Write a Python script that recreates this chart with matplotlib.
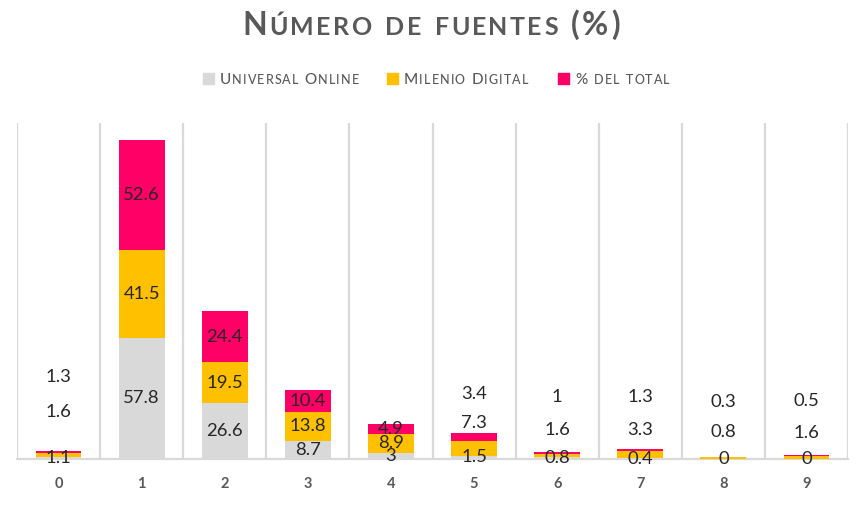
import matplotlib
matplotlib.use("Agg")
import matplotlib.pyplot as plt
from matplotlib.patches import Rectangle

# ---------------- data ----------------
categories = ["0", "1", "2", "3", "4", "5", "6", "7", "8", "9"]
universal_online = [1.1, 57.8, 26.6, 8.7, 3, 1.5, 0.8, 0.4, 0, 0]
milenio_digital = [1.6, 41.5, 19.5, 13.8, 8.9, 7.3, 1.6, 3.3, 0.8, 1.6]
pct_total = [1.3, 52.6, 24.4, 10.4, 4.9, 3.4, 1, 1.3, 0.3, 0.5]
series_names = ["Universal Online", "Milenio Digital", "% del total"]
title_text = "Número de fuentes (%)"

# ---------------- style ----------------
W, H, DPI = 867, 513, 100
FONT = ["Lato", "DejaVu Sans"]
C_GRAY = "#D9D9D9"
C_YELLOW = "#FFC000"
C_PINK = "#FF0066"
C_TEXT = "#595959"
C_LABEL = "#262626"
colors = [C_GRAY, C_YELLOW, C_PINK]

# manual label positions (data units) for labels moved above small stacks
label_pos = {
    (0, 1): 22.4, (0, 2): 39.0,
    (5, 1): 17.1, (5, 2): 31.0,
    (6, 1): 13.8, (6, 2): 29.5,
    (7, 1): 13.8, (7, 2): 29.5,
    (8, 1): 12.9, (8, 2): 27.1,
    (9, 1): 12.4, (9, 2): 27.6,
}

plt.rcParams["font.family"] = FONT
fig = plt.figure(figsize=(W / DPI, H / DPI), dpi=DPI)
fig.patch.set_facecolor("white")

left, right, top, bottom = 17, 848, 123, 459
ax = fig.add_axes([left / W, (H - bottom) / H, (right - left) / W, (bottom - top) / H])

x = list(range(len(categories)))
series = [universal_online, milenio_digital, pct_total]
base = [0.0] * len(x)
bw = 0.55
for si, vals in enumerate(series):
    ax.bar(x, vals, width=bw, bottom=base, color=colors[si], zorder=3, linewidth=0)
    for i, v in enumerate(vals):
        y = label_pos.get((i, si), base[i] + v / 2.0)
        ax.text(i, y, f"{v:g}", ha="center", va="center", fontsize=13.3,
                color=C_LABEL, zorder=5, family=FONT)
    base = [b + v for b, v in zip(base, vals)]

ax.set_xlim(-0.5, len(x) - 0.5)
ax.set_ylim(0, 160)
ax.set_yticks([])
ax.set_xticks(x)
ax.set_xticklabels(categories, fontweight="bold", fontsize=10.5, color=C_TEXT)
ax.set_xticks([k - 0.5 for k in range(len(x) + 1)], minor=True)
ax.tick_params(axis="x", which="both", length=0, pad=13)
ax.grid(axis="x", which="minor", color=C_GRAY, linewidth=1.6, zorder=0)
for s in ["top", "left", "right"]:
    ax.spines[s].set_visible(False)
ax.spines["bottom"].set_color(C_GRAY)
ax.spines["bottom"].set_linewidth(1.6)
ax.spines["bottom"].set_zorder(2)

renderer = fig.canvas.get_renderer()


def pt2px(pt):
    return pt * DPI / 72.0


def smallcaps(x_px, y_px, text, big, small, color, weight, track, ha="left"):
    pieces = []
    for ch in text:
        if ch.islower():
            pieces.append((ch.upper(), small))
        else:
            pieces.append((ch, big))
    widths = []
    for ch, size in pieces:
        if ch == " ":
            widths.append(pt2px(size) * 0.28)
            continue
        t = fig.text(0, 0, ch, fontsize=size, fontweight=weight, family=FONT)
        widths.append(t.get_window_extent(renderer).width)
        t.remove()
    total = sum(widths) + track * (len(pieces) - 1)
    cx = x_px - total / 2.0 if ha == "center" else x_px
    for (ch, size), w in zip(pieces, widths):
        if ch != " ":
            fig.text(cx / W, 1 - y_px / H, ch, fontsize=size, fontweight=weight,
                     color=color, family=FONT, va="baseline", ha="left")
        cx += w + track


# title
smallcaps(431, 35, title_text, 23, 18, C_TEXT, "bold", 2.3, ha="center")

# legend
sq_x = [203, 387, 558]
tx_x = [220, 404, 575]
for si, name in enumerate(series_names):
    fig.patches.append(Rectangle((sq_x[si] / W, 1 - 84 / H), 11 / W, 11 / H,
                                 transform=fig.transFigure, color=colors[si]))
    smallcaps(tx_x[si], 84, name, 11, 9, C_TEXT, "medium", 1.1)

fig.savefig("out.png", dpi=DPI, facecolor="white")
